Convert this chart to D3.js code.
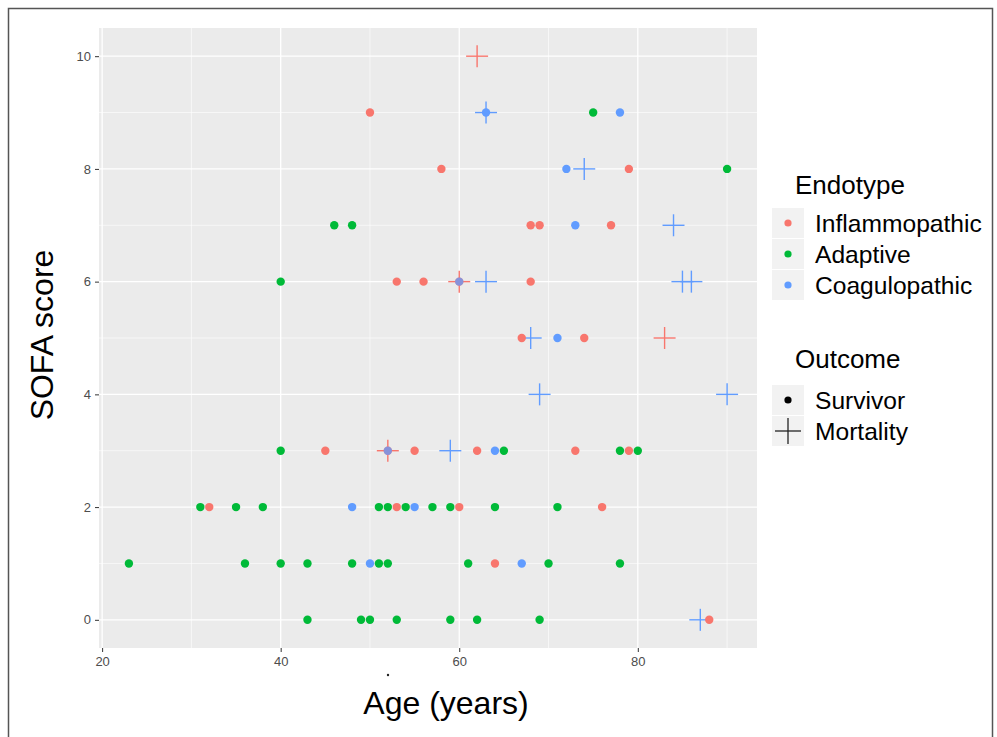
<!DOCTYPE html>
<html>
<head>
<meta charset="utf-8">
<script src="https://cdn.jsdelivr.net/npm/d3@7"></script>
<style>
  body { margin: 0; background: #fff; }
  svg { display: block; font-family: "Liberation Sans", Arial, sans-serif; }
</style>
</head>
<body>
<svg id="chart" width="997" height="737"></svg>
<script>
// Endotype categories and colours (ggplot hue palette)
const endotypes = ['Inflammopathic', 'Adaptive', 'Coagulopathic'];
const endoColors = ['#F8766D', '#00BA38', '#619CFF'];
const outcomes = ['Survivor', 'Mortality'];

// Survivors: [age, SOFA]
const survInflam = [[50,9],[58,8],[79,8],[68,7],[69,7],[77,7],[53,6],[56,6],[60,6],[68,6],
  [67,5],[74,5],[45,3],[52,3],[55,3],[62,3],[73,3],[79,3],[32,2],[53,2],[60,2],[76,2],[64,1],[88,0]];
const survAdapt = [[75,9],[90,8],[46,7],[48,7],[40,6],[40,3],[65,3],[78,3],[80,3],
  [31,2],[35,2],[38,2],[51,2],[52,2],[54,2],[57,2],[59,2],[64,2],[71,2],
  [23,1],[36,1],[40,1],[43,1],[48,1],[51,1],[52,1],[61,1],[70,1],[78,1],
  [43,0],[49,0],[50,0],[53,0],[59,0],[62,0],[69,0]];
const survCoag = [[63,9],[78,9],[72,8],[73,7],[60,6],[71,5],[52,3],[64,3],[48,2],[55,2],[50,1],[67,1]];

// Mortality: [age, SOFA]
const mortInflam = [[62,10],[60,6],[83,5],[52,3]];
const mortCoag = [[63,9],[74,8],[84,7],[63,6],[85,6],[86,6],[68,5],[69,4],[90,4],[59,3],[87,0]];

const xTicks = [20, 40, 60, 80];
const yTicks = [0, 2, 4, 6, 8, 10];

const svg = d3.select('#chart');
const panel = { left: 99, right: 757, top: 28, bottom: 648 };

// frame round the figure
svg.append('rect')
  .attr('x', 8.5).attr('y', 8.5).attr('width', 984).attr('height', 760)
  .attr('fill', 'none').attr('stroke', '#555').attr('stroke-width', 1.5);

const x = d3.scaleLinear().domain([19.65, 93.35]).range([panel.left, panel.right]);
const y = d3.scaleLinear().domain([-0.5, 10.5]).range([panel.bottom, panel.top]);

svg.append('rect')
  .attr('x', panel.left).attr('y', panel.top)
  .attr('width', panel.right - panel.left).attr('height', panel.bottom - panel.top)
  .attr('fill', '#EBEBEB');

const grid = svg.append('g');
// minor grid
grid.selectAll('.vminor').data([30, 50, 70, 90]).enter().append('line')
  .attr('x1', d => x(d)).attr('x2', d => x(d)).attr('y1', panel.top).attr('y2', panel.bottom)
  .attr('stroke', '#fff').attr('stroke-width', 0.6);
grid.selectAll('.hminor').data([1, 3, 5, 7, 9]).enter().append('line')
  .attr('y1', d => y(d)).attr('y2', d => y(d)).attr('x1', panel.left).attr('x2', panel.right)
  .attr('stroke', '#fff').attr('stroke-width', 0.6);
// major grid
grid.selectAll('.vmajor').data(xTicks).enter().append('line')
  .attr('x1', d => x(d)).attr('x2', d => x(d)).attr('y1', panel.top).attr('y2', panel.bottom)
  .attr('stroke', '#fff').attr('stroke-width', 1.3);
grid.selectAll('.hmajor').data(yTicks).enter().append('line')
  .attr('y1', d => y(d)).attr('y2', d => y(d)).attr('x1', panel.left).attr('x2', panel.right)
  .attr('stroke', '#fff').attr('stroke-width', 1.3);

// axes
const xAxis = svg.append('g')
  .attr('transform', `translate(0,${panel.bottom})`)
  .call(d3.axisBottom(x).tickValues(xTicks).tickSize(4).tickPadding(5));
const yAxis = svg.append('g')
  .attr('transform', `translate(${panel.left},0)`)
  .call(d3.axisLeft(y).tickValues(yTicks).tickSize(4).tickPadding(4));
[xAxis, yAxis].forEach(a => {
  a.select('.domain').remove();
  a.selectAll('.tick line').attr('stroke', '#333');
  a.selectAll('.tick text').attr('fill', '#4D4D4D').style('font-size', '13px')
    .style('font-family', '"Liberation Sans", Arial, sans-serif');
});

// axis titles
svg.append('text')
  .attr('x', 446).attr('y', 714).attr('text-anchor', 'middle')
  .style('font-size', '32px').text('Age (years)');
svg.append('text')
  .attr('transform', 'translate(53,335) rotate(-90)').attr('text-anchor', 'middle')
  .style('font-size', '32px').text('SOFA score');
// stray mark under the axis
svg.append('circle').attr('cx', 388).attr('cy', 675).attr('r', 1.2).attr('fill', '#222');

// points
const crossArm = 11;
const plot = svg.append('g');
function drawCrosses(data, color) {
  const g = plot.selectAll(null).data(data).enter().append('g')
    .attr('transform', d => `translate(${x(d[0])},${y(d[1])})`);
  g.append('line').attr('x1', -crossArm).attr('x2', crossArm)
    .attr('stroke', color).attr('stroke-width', 1.4);
  g.append('line').attr('y1', -crossArm).attr('y2', crossArm)
    .attr('stroke', color).attr('stroke-width', 1.4);
}
drawCrosses(mortInflam, endoColors[0]);
drawCrosses(mortCoag, endoColors[2]);

// survivors drawn in order; a dot landing on an earlier one is blended
const seen = new Set();
[survInflam, survAdapt, survCoag].forEach((data, i) => {
  plot.selectAll(null).data(data).enter().append('circle')
    .attr('cx', d => x(d[0])).attr('cy', d => y(d[1])).attr('r', 4.2)
    .attr('fill', endoColors[i])
    .attr('fill-opacity', d => {
      const k = d.join(',');
      if (seen.has(k)) return 0.75;
      seen.add(k);
      return 1;
    });
});

// legends
const lg = svg.append('g');
const keyX = 772, keyW = 32, keyH = 30;
lg.append('text').attr('x', 795).attr('y', 194).style('font-size', '26px').text('Endotype');
endotypes.forEach((name, i) => {
  const cy = 223 + i * 31;
  lg.append('rect').attr('x', keyX).attr('y', cy - keyH / 2).attr('width', keyW).attr('height', keyH)
    .attr('fill', '#F2F2F2');
  lg.append('circle').attr('cx', keyX + keyW / 2).attr('cy', cy).attr('r', 3.6).attr('fill', endoColors[i]);
  lg.append('text').attr('x', 815).attr('y', cy + 8.5).style('font-size', '24.6px').text(name);
});

lg.append('text').attr('x', 795).attr('y', 368).style('font-size', '26px').text('Outcome');
outcomes.forEach((name, i) => {
  const cy = 400 + i * 31;
  lg.append('rect').attr('x', keyX).attr('y', cy - keyH / 2).attr('width', keyW).attr('height', keyH)
    .attr('fill', '#F2F2F2');
  const cx = keyX + keyW / 2;
  if (i === 0) {
    lg.append('circle').attr('cx', cx).attr('cy', cy).attr('r', 3.6).attr('fill', '#000');
  } else {
    lg.append('line').attr('x1', cx - 13).attr('x2', cx + 13).attr('y1', cy).attr('y2', cy)
      .attr('stroke', '#222').attr('stroke-width', 1.3);
    lg.append('line').attr('x1', cx).attr('x2', cx).attr('y1', cy - 13).attr('y2', cy + 13)
      .attr('stroke', '#222').attr('stroke-width', 1.3);
  }
  lg.append('text').attr('x', 815).attr('y', cy + 8.5).style('font-size', '24.6px').text(name);
});
</script>
</body>
</html>
